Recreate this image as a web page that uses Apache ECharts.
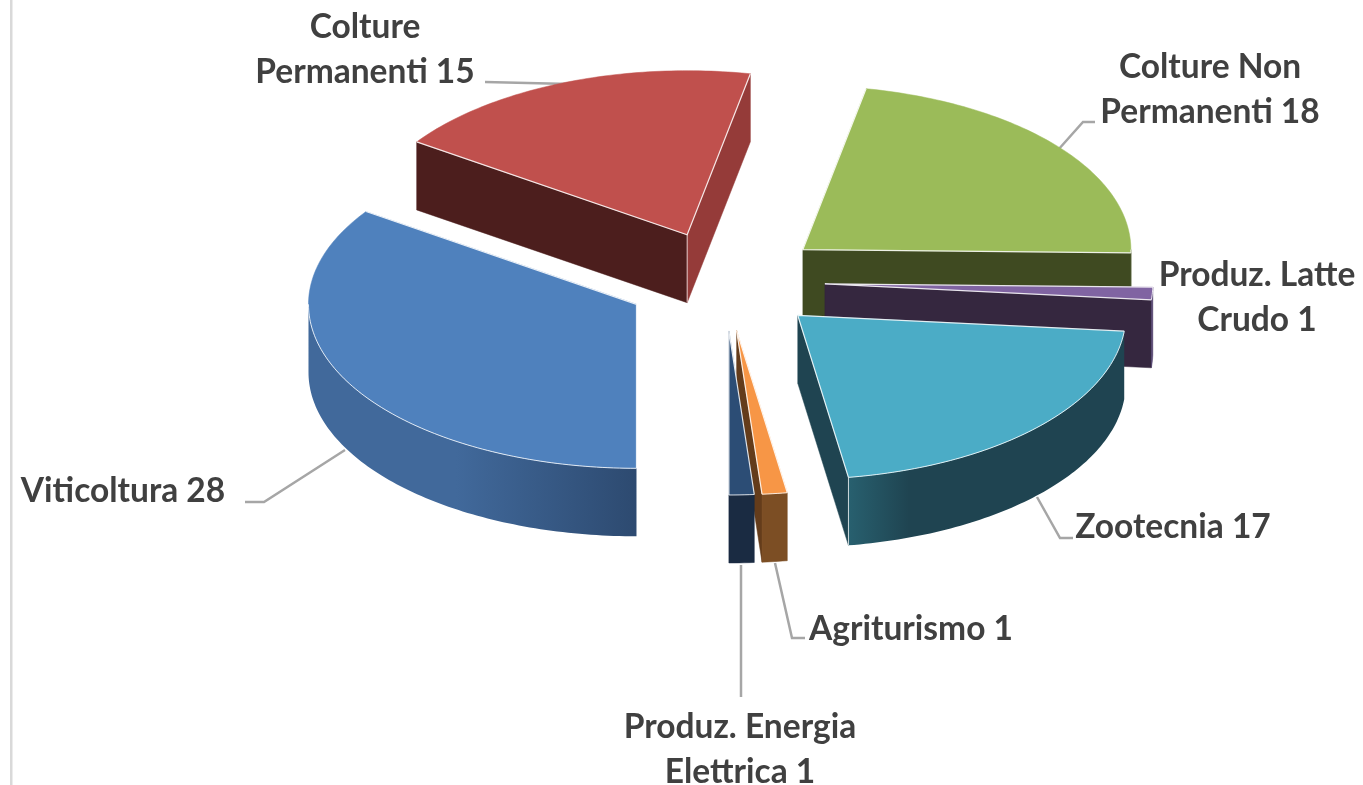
<!DOCTYPE html>
<html>
<head>
<meta charset="utf-8">
<style>html,body{margin:0;padding:0;background:#fff}#c{width:1363px;height:785px}</style>
<script src="https://cdn.jsdelivr.net/npm/echarts@6/dist/echarts.min.js"></script>
</head>
<body>
<div id="c"></div>
<script>
// Data
const categories = ['Viticoltura','Colture Permanenti','Colture Non Permanenti','Produz. Latte Crudo','Zootecnia','Agriturismo','Produz. Energia Elettrica'];
const values = [28,15,18,1,17,1,1];
const labelTexts = ['Viticoltura 28','Colture\nPermanenti 15','Colture Non\nPermanenti 18','Produz. Latte\nCrudo 1','Zootecnia 17','Agriturismo 1','Produz. Energia\nElettrica 1'];

// Styles
const topColors = ['#4F81BD','#C0504D','#9BBB59','#8064A2','#4BACC6','#F79646','#2C4D75'];
const startFaceColors = ['#2F4A70','#4C1E1D','#3F4A21','#33284A','#1F4451','#643C1B','#1A2B42'];
const endFaceColors = ['#2F4A70','#953B39','#3F4A21','#35273F','#1F4451','#643C1B','#1A2B42'];
const wallLeft = ['#41699B','#953B39','#3F4A21','#4F3F6B','#28606F','#7C4E24','#1A2B42'];
const wallRight = ['#2D4A70','#953B39','#3F4A21','#4F3F6B','#1F4451','#7C4E24','#1A2B42'];
const wallFade = [0.45,1,1,1,0.22,1,1];

// Layout
const CX = 725, CY = 281, RX = 328, RY = 164, DEPTH = 68, EXPLODE = 0.305, START = 180;
const labelPos = [[123,491],[365,50],[1210,90],[1257,298],[1173,527],[911,629],[740,750]];
const leaders = [
  [[345,450],[264,502],[245,502]],
  [[570,84],[485,82]],
  [[1058,150],[1083,122],[1095,122]],
  null,
  [[1037,497],[1060,538],[1073,538]],
  [[775,563],[792,638],[805,638]],
  [[741,565],[741,697]]
];

const total = values.reduce((a,b)=>a+b,0);
const rad = d => d*Math.PI/180;

function sliceGeom(i){
  let acc = 0;
  for (let k=0;k<i;k++) acc += values[k];
  const a = START + acc/total*360;
  const b = a + values[i]/total*360;
  const m = rad((a+b)/2);
  const ox = CX + EXPLODE*RX*Math.sin(m);
  const oy = CY - EXPLODE*RY*Math.cos(m);
  const pt = (d,dz) => [ox + RX*Math.sin(rad(d)), oy - RY*Math.cos(rad(d)) + (dz||0)];
  return {a,b,m,ox,oy,pt};
}
function arc(g,from,to,dz){
  const out=[]; const n=Math.max(2,Math.ceil(Math.abs(to-from)));
  for(let j=0;j<=n;j++) out.push(g.pt(from+(to-from)*j/n,dz));
  return out;
}
function renderItem(params, api){
  const i = api.value(0);
  const g = sliceGeom(i);
  const z = Math.round(100 - 40*Math.cos(g.m)) * 10;
  const ch = [];
  const poly = (points,fill,dz) => ch.push({type:'polygon',z2:z+dz,shape:{points},style:{fill,stroke:typeof fill==='string'?fill:null,lineWidth:0.5}});
  const line = (points,stroke,w,dz) => ch.push({type:'polyline',z2:z+dz,shape:{points},style:{stroke,lineWidth:w,fill:null}});
  const apex=[g.ox,g.oy], apexB=[g.ox,g.oy+DEPTH];

  if (Math.sin(rad(g.a)) < -1e-6) {
    poly([apex,g.pt(g.a),g.pt(g.a,DEPTH),apexB],startFaceColors[i],1);
  }
  if (Math.sin(rad(g.b)) > 1e-6) {
    poly([apex,g.pt(g.b),g.pt(g.b,DEPTH),apexB],endFaceColors[i],2);
  }
  for (const k of [0,360]) {
    const lo=Math.max(g.a,90+k), hi=Math.min(g.b,270+k);
    if (hi>lo) {
      const up=arc(g,lo,hi,0), dn=arc(g,hi,lo,DEPTH);
      const fill = wallLeft[i]===wallRight[i] ? wallLeft[i] : {
        type:'linear',x:0,y:0,x2:1,y2:0,
        colorStops:[{offset:0,color:wallLeft[i]},{offset:wallFade[i],color:i===0?wallLeft[i]:wallRight[i]},{offset:1,color:wallRight[i]}]
      };
      poly(up.concat(dn),fill,3);
      line(arc(g,lo,hi,0),'rgba(255,255,255,0.8)',1,5);
      if (i===4) line([g.pt(hi),g.pt(hi,DEPTH)],'rgba(255,255,255,0.75)',1,5);
    }
  }
  poly([apex].concat(arc(g,g.a,g.b,0)),topColors[i],4);
  line([g.pt(g.a),apex,g.pt(g.b)],'rgba(255,255,255,0.85)',1.2,5);
  if (i===1) line([apex,apexB],'rgba(255,255,255,0.7)',1,5);

  // leader line and label
  if (leaders[i]) ch.push({type:'polyline',z2:1,shape:{points:leaders[i]},style:{stroke:'#A6A6A6',lineWidth:2.5,fill:null}});
  ch.push({type:'text',z2:5000,x:labelPos[i][0],y:labelPos[i][1],style:{
    text:labelTexts[i],fill:'#404040',font:'bold 33.5px Lato, "Open Sans", sans-serif',
    align:'center',verticalAlign:'middle',lineHeight:45
  }});
  return {type:'group',children:ch};
}

const chart = echarts.init(document.getElementById('c'),null,{renderer:'canvas'});
chart.setOption({
  animation:false,
  backgroundColor:'#fff',
  graphic:[{type:'rect',shape:{x:10,y:0,width:2.5,height:785},style:{fill:'#D9D9D9'}}],
  series:[{
    type:'custom',
    coordinateSystem:'none',
    name:'Settori',
    renderItem,
    encode:{itemName:2,value:1},
    dimensions:['idx','value','name'],
    data:categories.map((c,i)=>[i,values[i],c]),
    silent:true
  }]
});
</script>
</body>
</html>
